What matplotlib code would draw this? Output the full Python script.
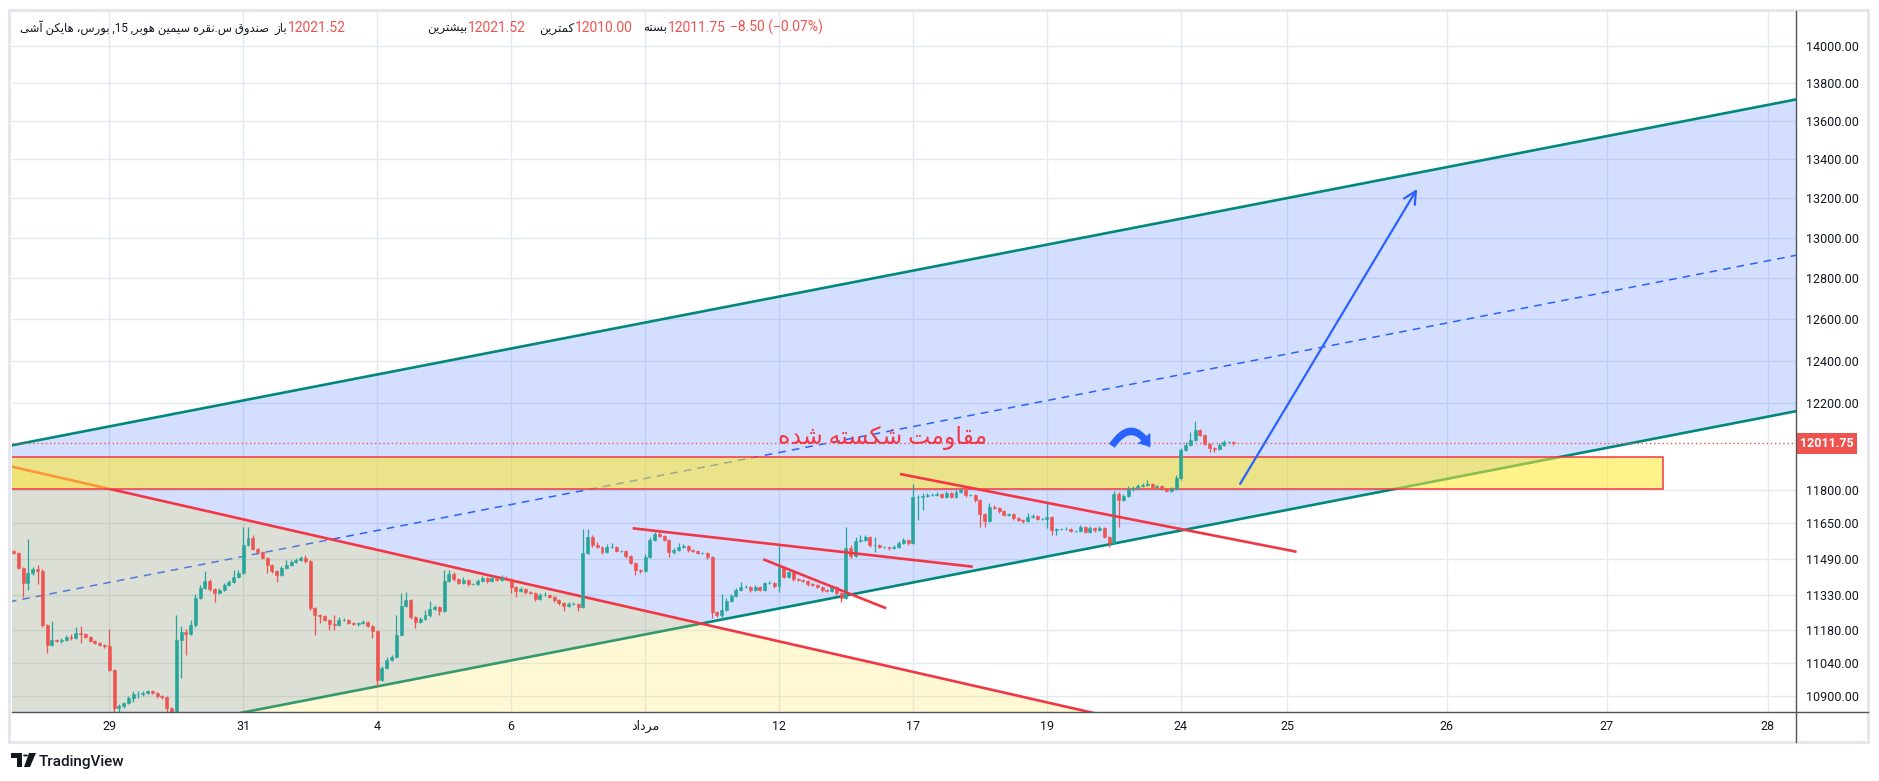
import re

import numpy as np
import matplotlib
matplotlib.use("Agg")
import matplotlib.pyplot as plt
import matplotlib.transforms as mtransforms
from matplotlib.patches import Rectangle, FancyArrowPatch, Circle, Polygon
from matplotlib.lines import Line2D
from matplotlib.ticker import FixedLocator, FixedFormatter, NullLocator

plt.rcParams['font.family'] = ['Roboto', 'DejaVu Sans']

W, H = 1879, 781

# heikin ashi 15m candles, one close per bar
closes = [
    11516, 11449, 11383, 11427, 11445, 11436, 11201, 11115, 11136, 11132, 11136, 11149, 11145, 11166, 11162, 11149,
    11132, 11123, 11115, 11110, 11008, 10848, 10857, 10869, 10890, 10907, 10907, 10911, 10919, 10911, 10898, 10894,
    10848, 10827, 11136, 11170, 11162, 11201, 11318, 11362, 11392, 11357, 11340, 11353, 11375, 11388, 11410, 11427,
    11551, 11582, 11533, 11520, 11493, 11463, 11436, 11418, 11449, 11463, 11476, 11485, 11493, 11480, 11274, 11244,
    11240, 11222, 11205, 11201, 11222, 11222, 11209, 11205, 11209, 11214, 11196, 11175, 10966, 11017, 11051, 11063,
    11158, 11283, 11309, 11235, 11214, 11227, 11244, 11270, 11279, 11261, 11392, 11423, 11401, 11383, 11396, 11379,
    11379, 11392, 11405, 11392, 11405, 11396, 11405, 11401, 11366, 11348, 11357, 11344, 11340, 11313, 11331, 11331,
    11322, 11309, 11296, 11283, 11292, 11292, 11279, 11516, 11587, 11551, 11542, 11520, 11542, 11542, 11525, 11525,
    11502, 11471, 11440, 11436, 11498, 11573, 11600, 11591, 11573, 11520, 11529, 11542, 11547, 11529, 11525, 11516,
    11516, 11498, 11257, 11244, 11266, 11305, 11326, 11353, 11366, 11366, 11353, 11366, 11353, 11383, 11383, 11370,
    11454, 11410, 11432, 11401, 11396, 11392, 11379, 11375, 11366, 11353, 11348, 11366, 11340, 11318, 11538, 11502,
    11569, 11573, 11587, 11551, 11551, 11542, 11542, 11538, 11542, 11560, 11573, 11560, 11767, 11767, 11771, 11776,
    11776, 11780, 11767, 11785, 11767, 11789, 11798, 11776, 11776, 11753, 11690, 11658, 11721, 11717, 11703, 11685,
    11690, 11672, 11663, 11658, 11676, 11681, 11667, 11667, 11676, 11618, 11623, 11623, 11623, 11614, 11614, 11632,
    11609, 11627, 11618, 11627, 11587, 11560, 11780, 11753, 11771, 11803, 11808, 11817, 11821, 11826, 11812, 11817,
    11803, 11794, 11803, 11853, 11982, 12005, 12028, 12075, 12052, 12010, 11991, 11986, 12005, 12019, 12019, 12011.75,
]
first_open = 11525

upper_wick = [
    5, 4, 6, 151, 10, 18, 8, 5, 82, 6, 8, 10, 12, 26, 30, 6,
    5, 4, 6, 5, 73, 4, 6, 5, 8, 12, 12, 9, 6, 5, 4, 6,
    5, 4, 108, 25, 12, 21, 15, 12, 44, 8, 6, 9, 10, 8, 30, 12,
    80, 49, 14, 6, 5, 4, 6, 5, 8, 22, 7, 8, 10, 14, 6, 5,
    6, 5, 4, 39, 13, 8, 5, 6, 5, 7, 5, 6, 4, 9, 12, 10,
    86, 57, 35, 6, 5, 8, 22, 35, 9, 6, 48, 17, 8, 5, 14, 5,
    6, 10, 9, 5, 8, 6, 13, 7, 5, 4, 8, 5, 4, 5, 9, 12,
    5, 4, 6, 5, 8, 9, 5, 107, 36, 10, 13, 6, 14, 18, 5, 6,
    4, 5, 4, 6, 12, 15, 9, 10, 6, 5, 7, 18, 9, 5, 6, 4,
    5, 4, 6, 5, 69, 12, 10, 9, 22, 8, 5, 9, 4, 5, 8, 6,
    93, 6, 4, 5, 4, 6, 5, 4, 6, 5, 4, 8, 5, 4, 93, 12,
    18, 23, 9, 6, 36, 5, 6, 4, 8, 10, 9, 5, 59, 10, 12, 8,
    9, 7, 5, 8, 4, 9, 10, 5, 6, 4, 5, 6, 19, 8, 5, 4,
    6, 5, 4, 6, 18, 9, 5, 6, 64, 5, 6, 5, 7, 4, 6, 9,
    5, 8, 5, 7, 4, 5, 14, 10, 9, 12, 8, 9, 7, 18, 5, 6,
    4, 5, 8, 12, 10, 15, 37, 41, 4, 5, 4, 5, 8, 7, 6, 4,
]
lower_wick = [
    5, 6, 61, 30, 8, 57, 8, 35, 6, 5, 8, 6, 9, 6, 39, 5,
    4, 6, 5, 7, 6, 50, 29, 8, 6, 17, 17, 8, 6, 5, 7, 6,
    29, 29, 5, 162, 90, 6, 8, 5, 6, 7, 40, 6, 5, 7, 6, 5,
    6, 5, 4, 6, 5, 36, 8, 30, 5, 6, 4, 5, 6, 7, 8, 86,
    31, 6, 26, 22, 5, 4, 6, 5, 7, 5, 6, 30, 26, 5, 6, 4,
    5, 6, 4, 8, 26, 6, 5, 7, 4, 17, 6, 5, 7, 6, 4, 8,
    6, 5, 4, 7, 5, 6, 4, 5, 26, 26, 5, 8, 6, 7, 5, 4,
    6, 8, 7, 22, 5, 6, 18, 6, 5, 8, 6, 7, 5, 4, 6, 5,
    7, 6, 22, 8, 5, 6, 4, 5, 6, 22, 7, 5, 6, 8, 5, 6,
    5, 7, 26, 8, 22, 5, 6, 4, 5, 6, 7, 5, 6, 4, 5, 7,
    26, 6, 5, 7, 6, 5, 8, 6, 5, 7, 6, 5, 8, 18, 6, 9,
    5, 6, 4, 7, 31, 5, 6, 7, 5, 4, 6, 8, 6, 104, 59, 5,
    6, 4, 7, 5, 6, 4, 5, 8, 6, 7, 58, 26, 6, 5, 7, 6,
    5, 8, 6, 7, 5, 6, 4, 6, 40, 22, 22, 6, 5, 7, 6, 5,
    6, 5, 7, 4, 6, 18, 5, 121, 6, 5, 7, 4, 6, 5, 7, 4,
    6, 5, 7, 6, 8, 5, 6, 4, 7, 5, 19, 14, 5, 4, 6, 5,
]

price_ticks = [14000, 13800, 13600, 13400, 13200, 13000, 12800, 12600, 12400, 12200,
               11800, 11650, 11490, 11330, 11180, 11040, 10900]
last_price = 12011.75
date_labels = ["29", "31", "4", "6", "مرداد", "12", "17", "19", "24", "25", "26", "27", "28"]
date_ticks = [20, 48, 76, 104, 132, 160, 188, 216, 244, 266.3, 299.6, 333.0, 366.7]

# legend row
title = "صندوق س.نقره سیمین هوبر, 15, بورس، هایکن آشی"
ohlc_names = ["باز", "بیشترین", "کمترین", "بسته"]
ohlc_values = [12021.52, 12021.52, 12010.00, 12011.75]
change_text = "−8.50 (−0.07%)"

# drawings, anchors as (bar, price)
channel_upper = [(-1, 12000.4), (374, 13720)]
channel_lower = [(-1, 10641.8), (374, 12168)]
triangle_edge = [(-1, 11908), (240, 10763)]
zone_x = (-1.5, 344.8)
zone_p = (11801.4, 11948)
trend_a = [(129.4, 11625.6), (200.5, 11455)]
trend_b = [(156.7, 11487.7), (182.4, 11273)]
trend_c = [(185.3, 11871.3), (268.2, 11521)]
target_arrow = [(256.4, 11826), (293.4, 13249)]
bend_arrow = [(229.6, 12001), (237.6, 11993)]
note = "مقاومت شکسته شده"
note_at = (181.7, 12008)

UP, DOWN = "#26a69a", "#ef5350"
RED = "#f23645"
BLUE = "#2962ff"
TEAL = "#00897b"
INK = "#131722"

# --- persian shaping (matplotlib has no bidi / joining) ---
FORMS = {
    'ا': ('\uFE8D', '\uFE8E', None, None),
    'آ': ('\uFE81', '\uFE82', None, None),
    'ب': ('\uFE8F', '\uFE90', '\uFE91', '\uFE92'),
    'ت': ('\uFE95', '\uFE96', '\uFE97', '\uFE98'),
    'د': ('\uFEA9', '\uFEAA', None, None),
    'ر': ('\uFEAD', '\uFEAE', None, None),
    'ز': ('\uFEAF', '\uFEB0', None, None),
    'س': ('\uFEB1', '\uFEB2', '\uFEB3', '\uFEB4'),
    'ش': ('\uFEB5', '\uFEB6', '\uFEB7', '\uFEB8'),
    'ص': ('\uFEB9', '\uFEBA', '\uFEBB', '\uFEBC'),
    'ق': ('\uFED5', '\uFED6', '\uFED7', '\uFED8'),
    'م': ('\uFEE1', '\uFEE2', '\uFEE3', '\uFEE4'),
    'ن': ('\uFEE5', '\uFEE6', '\uFEE7', '\uFEE8'),
    'ه': ('\uFEE9', '\uFEEA', '\uFEEB', '\uFEEC'),
    'و': ('\uFEED', '\uFEEE', None, None),
    'ی': ('\uFBFC', '\uFBFD', '\uFBFE', '\uFBFF'),
    'ک': ('\uFB8E', '\uFB8F', '\uFB90', '\uFB91'),
}


def rtl(text):
    out = []
    for i, ch in enumerate(text):
        if ch not in FORMS:
            out.append(ch)
            continue
        iso, fin, ini, med = FORMS[ch]
        prev = text[i - 1] if i > 0 else ''
        nxt = text[i + 1] if i + 1 < len(text) else ''
        join_prev = prev in FORMS and FORMS[prev][2] is not None
        join_next = ini is not None and nxt in FORMS
        if join_prev and join_next:
            out.append(med)
        elif join_prev:
            out.append(fin)
        elif join_next:
            out.append(ini)
        else:
            out.append(iso)
    parts = re.findall(r'\d+|\D', ''.join(out))
    return ''.join(reversed(parts))


def fx(px):
    return px / W


def fy(py):
    return 1 - py / H


def seg(points):
    xs, ps = zip(*points)
    return list(xs), list(ps)


fig = plt.figure(figsize=(W / 100, H / 100), dpi=100, facecolor="white")
ax = fig.add_axes([fx(11.5), fy(711.7), fx(1796) - fx(11.5), fy(11.7) - fy(711.7)])
ax.set_yscale('log')
ax.set_facecolor("white")
for s in ax.spines.values():
    s.set_visible(False)

# channel
ux, up_ = seg(channel_upper)
lx, lo_ = seg(channel_lower)
ax.fill_between(ux, up_, lo_, color=BLUE, alpha=0.2, lw=0, zorder=1)
mid = np.sqrt(np.array(up_) * np.array(lo_))
ax.plot(ux, mid, color=BLUE, lw=1.1, dashes=(5, 4), zorder=1.5)
ax.plot(ux, up_, color=TEAL, lw=1.9, zorder=2)
ax.plot(lx, lo_, color=TEAL, lw=1.9, zorder=2)

# triangle (yellow area under the falling red line)
tx, tp = seg(triangle_edge)
ax.fill([tx[0], tx[1], tx[1], tx[0]], [tp[0], tp[1], 10000, 10000],
        color=(1.0, 0.88, 0.18), alpha=0.2, lw=0, zorder=2.5)
ax.plot(tx, tp, color=RED, lw=1.9, zorder=2.6)

# resistance zone
ax.add_patch(Rectangle((zone_x[0], zone_p[0]), zone_x[1] - zone_x[0], zone_p[1] - zone_p[0],
                       facecolor=(1.0, 0.91, 0.17, 0.55), edgecolor=RED, lw=1.1, zorder=3))

ax.axhline(last_price, color=DOWN, lw=1, ls=(0, (1, 2)), zorder=3.5)

# candles
c = np.array(closes, dtype=float)
o = np.array([first_open] + closes[:-1], dtype=float)
x = np.arange(len(c))
hi = np.maximum(o, c) + np.array(upper_wick)
lo = np.minimum(o, c) - np.array(lower_wick)
cols = np.where(c >= o, UP, DOWN)
ax.vlines(x, lo, hi, colors=cols, lw=0.9, zorder=4)
ax.bar(x, np.abs(c - o), bottom=np.minimum(o, c), width=0.62, color=cols,
       edgecolor=cols, linewidth=0.4, zorder=4.1)

# trend lines
for t in (trend_a, trend_b, trend_c):
    xs, ps = seg(t)
    ax.plot(xs, ps, color=RED, lw=1.9, zorder=5, solid_capstyle='butt')

ax.add_patch(FancyArrowPatch(target_arrow[0], target_arrow[1], arrowstyle='->,head_length=0.9,head_width=0.45',
                             mutation_scale=10, color=BLUE, lw=1.6, shrinkA=0, shrinkB=0, zorder=6))
ax.add_patch(FancyArrowPatch(bend_arrow[0], bend_arrow[1], connectionstyle='arc3,rad=-0.8',
                             arrowstyle='simple,head_length=8,head_width=12,tail_width=5',
                             mutation_scale=1, color=BLUE, lw=0, shrinkA=0, shrinkB=0, zorder=6))
ax.text(note_at[0], note_at[1], rtl(note), color=RED, fontsize=17, ha='center', va='baseline', zorder=6)

# axes
ax.set_xlim(-0.44, 372.6)
ax.set_ylim(10832.8, 14184.5)
ax.yaxis.set_major_locator(FixedLocator(price_ticks))
ax.yaxis.set_major_formatter(FixedFormatter([f"{p:.2f}" for p in price_ticks]))
ax.yaxis.set_minor_locator(NullLocator())
ax.yaxis.tick_right()
ax.set_xticks(date_ticks)
ax.set_xticklabels([rtl(d) for d in date_labels])
ax.tick_params(axis='y', length=0, pad=7.5, labelsize=9, labelcolor=INK)
ax.tick_params(axis='x', length=0, pad=6, labelsize=9, labelcolor=INK)
ax.set_axisbelow(True)
ax.grid(True, color="#e4e9f0", lw=1)

blend = mtransforms.blended_transform_factory(ax.transAxes, ax.transData)
ax.text(1.0022, last_price, f"{last_price:.2f}", transform=blend, color="white", fontsize=9,
        fontweight='bold', ha='left', va='center', clip_on=False, zorder=10,
        bbox=dict(boxstyle='square,pad=0.3', fc=DOWN, ec='none'))

# widget frame and axis separators
fig.add_artist(Rectangle((fx(9), fy(742)), fx(1868) - fx(9), fy(10) - fy(742), transform=fig.transFigure,
                         fill=False, ec="#e3e6ec", lw=2))
fig.add_artist(Line2D([fx(11.5), fx(1868)], [fy(711.7), fy(711.7)], transform=fig.transFigure, color="#50535e", lw=1))
fig.add_artist(Line2D([fx(1796), fx(1796)], [fy(11), fy(742)], transform=fig.transFigure, color="#50535e", lw=1))

# legend row
base = fy(31.7)
fig.text(fx(20), base, rtl(title), color=INK, fontsize=8.4, va='baseline')
for name, val, vx in zip(ohlc_names, ohlc_values, [288, 468, 575, 668]):
    fig.text(fx(vx - 0.5), base, rtl(name), color=INK, fontsize=8.6, ha='right', va='baseline')
    fig.text(fx(vx), base, f"{val:.2f}", color=DOWN, fontsize=10, va='baseline')
fig.text(fx(730), base, change_text, color=DOWN, fontsize=10, va='baseline')

# TradingView mark
fig.add_artist(Polygon([(fx(11), fy(753)), (fx(22), fy(753)), (fx(22), fy(767)), (fx(17), fy(767)),
                        (fx(17), fy(758)), (fx(11), fy(758))], closed=True, transform=fig.transFigure,
                       fc=INK, ec='none'))
fig.add_artist(Circle((fx(25.5), fy(755.5)), 2.4 / W, transform=fig.transFigure, fc=INK, ec='none'))
fig.add_artist(Polygon([(fx(29), fy(753)), (fx(36), fy(753)), (fx(30), fy(767)), (fx(24), fy(767))],
                       closed=True, transform=fig.transFigure, fc=INK, ec='none'))
fig.text(fx(39), fy(766), "TradingView", color=INK, fontsize=11, va='baseline', fontweight='medium')

fig.savefig("out.png", dpi=100, facecolor="white")
